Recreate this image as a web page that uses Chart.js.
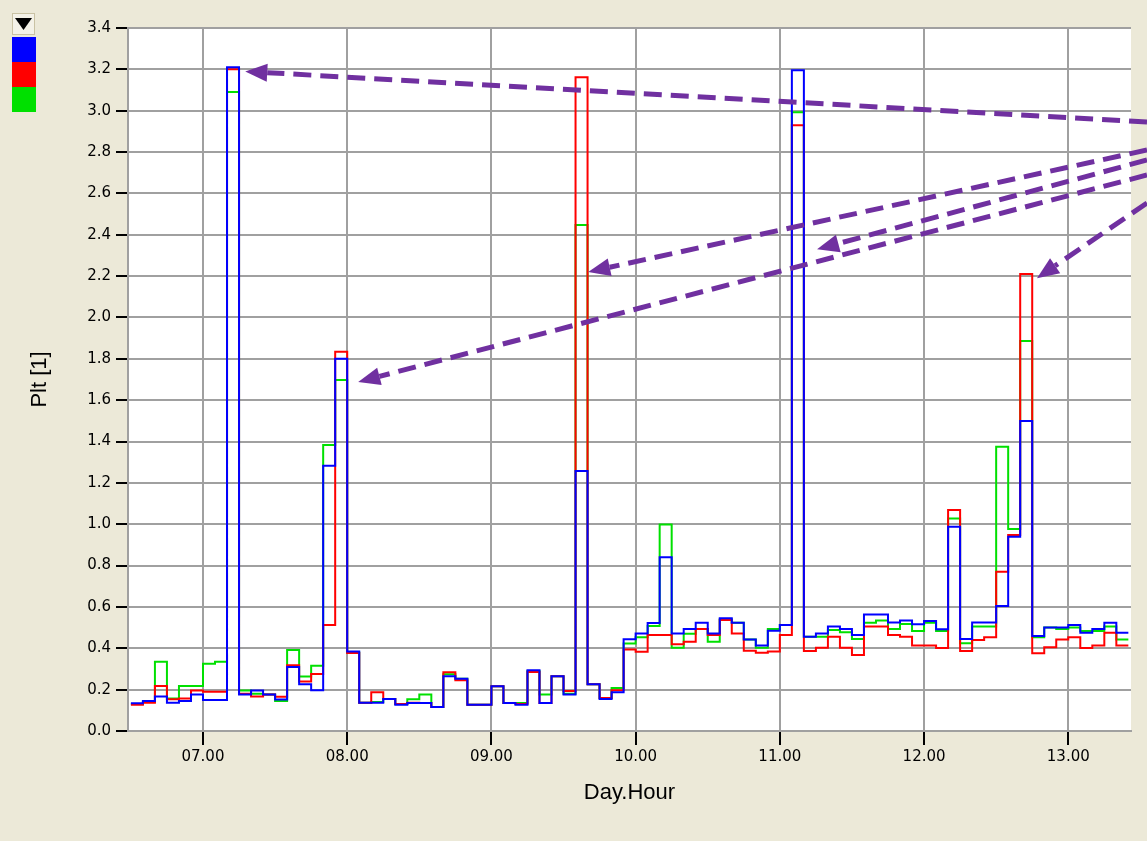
<!DOCTYPE html>
<html lang="en">

<head>
    <meta charset="UTF-8">
    <title>Plt [1] - Day.Hour</title>
    <script src="https://cdn.jsdelivr.net/npm/chart.js"></script>
    <style>
        body { margin: 0; background: #ECE9D8; }
        canvas { display: block; }
    </style>
</head>

<body>
    <canvas id="myChart" width="1147" height="841"></canvas>

    <script>
        // two-hour steps starting at day 06, 12:00
        const startTime = 6.5;
        const stepSize = 1 / 12;

        const blueValues = [
            0.134, 0.145, 0.167, 0.137, 0.145, 0.177, 0.150, 0.150, 3.210, 0.177,
            0.196, 0.177, 0.152, 0.310, 0.226, 0.197, 1.283, 1.800, 0.385, 0.137,
            0.137, 0.155, 0.127, 0.135, 0.135, 0.116, 0.265, 0.253, 0.127, 0.127,
            0.216, 0.135, 0.127, 0.294, 0.135, 0.265, 0.177, 1.257, 0.226, 0.155,
            0.187, 0.444, 0.472, 0.522, 0.840, 0.472, 0.493, 0.524, 0.472, 0.545,
            0.524, 0.443, 0.413, 0.485, 0.513, 3.196, 0.456, 0.472, 0.505, 0.493,
            0.464, 0.564, 0.564, 0.525, 0.534, 0.516, 0.532, 0.492, 0.988, 0.445,
            0.525, 0.525, 0.604, 0.940, 1.499, 0.459, 0.501, 0.501, 0.513, 0.475,
            0.493, 0.524, 0.475
        ];
        const redValues = [
            0.127, 0.137, 0.218, 0.153, 0.157, 0.196, 0.190, 0.190, 3.200, 0.180,
            0.167, 0.177, 0.166, 0.318, 0.240, 0.276, 0.513, 1.834, 0.377, 0.137,
            0.188, 0.155, 0.130, 0.137, 0.135, 0.116, 0.284, 0.245, 0.127, 0.127,
            0.216, 0.135, 0.130, 0.285, 0.135, 0.265, 0.194, 3.162, 0.226, 0.160,
            0.197, 0.394, 0.383, 0.464, 0.464, 0.419, 0.432, 0.493, 0.464, 0.537,
            0.472, 0.388, 0.379, 0.384, 0.464, 2.930, 0.387, 0.403, 0.456, 0.403,
            0.368, 0.505, 0.505, 0.464, 0.456, 0.414, 0.414, 0.401, 1.069, 0.387,
            0.440, 0.453, 0.770, 0.948, 2.210, 0.376, 0.405, 0.443, 0.453, 0.401,
            0.414, 0.475, 0.414
        ];
        const greenValues = [
            0.130, 0.140, 0.335, 0.157, 0.218, 0.218, 0.325, 0.335, 3.090, 0.196,
            0.180, 0.177, 0.145, 0.392, 0.264, 0.315, 1.383, 1.697, 0.380, 0.137,
            0.140, 0.155, 0.130, 0.153, 0.177, 0.116, 0.274, 0.253, 0.127, 0.127,
            0.216, 0.135, 0.135, 0.290, 0.177, 0.265, 0.180, 2.447, 0.226, 0.160,
            0.208, 0.423, 0.454, 0.508, 0.999, 0.403, 0.470, 0.493, 0.432, 0.540,
            0.524, 0.443, 0.403, 0.493, 0.513, 2.993, 0.456, 0.456, 0.488, 0.477,
            0.445, 0.524, 0.534, 0.493, 0.517, 0.484, 0.524, 0.484, 1.028, 0.424,
            0.505, 0.505, 1.375, 0.977, 1.886, 0.453, 0.501, 0.493, 0.501, 0.484,
            0.484, 0.505, 0.443
        ];

        const xTicks = [7, 8, 9, 10, 11, 12, 13];
        const xTickLabels = ['07.00', '08.00', '09.00', '10.00', '11.00', '12.00', '13.00'];
        const yTicks = [0, 0.2, 0.4, 0.6, 0.8, 1.0, 1.2, 1.4, 1.6, 1.8, 2.0, 2.2, 2.4, 2.6, 2.8, 3.0, 3.2, 3.4];

        // arrow tips in data units (Day.Hour, Plt)
        const arrowTips = [
            [7.293, 3.19], [9.671, 2.22], [11.258, 2.33], [8.076, 1.688], [12.783, 2.19]
        ];
        const arrowStartsY = [122, 150, 160, 175, 203];

        // one point per step, plus an end point so the last step is drawn
        function toSteps(values) {
            const pts = values.map((v, i) => ({ x: startTime + i * stepSize, y: v }));
            pts.push({ x: startTime + values.length * stepSize, y: values[values.length - 1] });
            return pts;
        }

        const plotBackground = {
            id: 'plotBackground',
            beforeDraw(chart) {
                const { ctx, chartArea: a } = chart;
                ctx.save();
                ctx.fillStyle = '#ffffff';
                ctx.fillRect(a.left, a.top, a.right - a.left, a.bottom - a.top);
                ctx.restore();
            }
        };

        const swatches = {
            id: 'swatches',
            afterDraw(chart) {
                const ctx = chart.ctx;
                ctx.save();
                // small dropdown button
                ctx.fillStyle = '#f4f2e8';
                ctx.fillRect(12, 13, 23, 22);
                ctx.strokeStyle = '#c9c2a4';
                ctx.lineWidth = 1;
                ctx.strokeRect(12.5, 13.5, 22, 21);
                ctx.fillStyle = '#000';
                ctx.beginPath();
                ctx.moveTo(15, 18);
                ctx.lineTo(32, 18);
                ctx.lineTo(23.5, 30);
                ctx.closePath();
                ctx.fill();
                chart.data.datasets.forEach((ds, i) => {
                    ctx.fillStyle = ds.borderColor;
                    ctx.fillRect(12, 37 + i * 25, 24, 25);
                });
                ctx.restore();
            }
        };

        const arrows = {
            id: 'arrows',
            afterDraw(chart) {
                const { ctx, scales: { x, y } } = chart;
                ctx.save();
                ctx.strokeStyle = '#7030A0';
                ctx.fillStyle = '#7030A0';
                ctx.lineWidth = 5;
                arrowTips.forEach(([tx, ty], i) => {
                    const ex = x.getPixelForValue(tx);
                    const ey = y.getPixelForValue(ty);
                    const sx = chart.width;
                    const sy = arrowStartsY[i];
                    const ang = Math.atan2(ey - sy, ex - sx);
                    const head = 22, half = 9;
                    const bx = ex - head * Math.cos(ang);
                    const by = ey - head * Math.sin(ang);
                    ctx.setLineDash([18, 9]);
                    ctx.beginPath();
                    ctx.moveTo(sx, sy);
                    ctx.lineTo(bx, by);
                    ctx.stroke();
                    ctx.setLineDash([]);
                    ctx.beginPath();
                    ctx.moveTo(ex, ey);
                    ctx.lineTo(bx + half * Math.sin(ang), by - half * Math.cos(ang));
                    ctx.lineTo(bx - half * Math.sin(ang), by + half * Math.cos(ang));
                    ctx.closePath();
                    ctx.fill();
                });
                ctx.restore();
            }
        };

        const ctx = document.getElementById('myChart');

        new Chart(ctx, {
            type: 'line',
            data: {
                datasets: [
                    { label: 'blue', data: toSteps(blueValues), borderColor: '#0000ff' },
                    { label: 'red', data: toSteps(redValues), borderColor: '#ff0000' },
                    { label: 'green', data: toSteps(greenValues), borderColor: '#00e000' }
                ]
            },
            options: {
                responsive: false,
                animation: false,
                layout: { padding: { left: 0, right: 16, top: 28, bottom: 0 } },
                elements: {
                    point: { radius: 0 },
                    line: { borderWidth: 2, stepped: true, tension: 0 }
                },
                plugins: {
                    legend: { display: false },
                    tooltip: { enabled: false }
                },
                scales: {
                    x: {
                        type: 'linear',
                        min: 6.48,
                        max: 13.435,
                        afterFit: (s) => { s.height = 110; },
                        afterBuildTicks: (s) => { s.ticks = xTicks.map(v => ({ value: v })); },
                        grid: { color: '#a0a0a0', lineWidth: 2, tickColor: '#000', tickLength: 14 },
                        border: { color: '#a0a0a0', width: 2 },
                        ticks: {
                            color: '#000',
                            padding: 3,
                            maxRotation: 0,
                            font: { family: 'DejaVu Sans', size: 15 },
                            callback: (v, i) => xTickLabels[i]
                        },
                        title: {
                            display: true,
                            text: 'Day.Hour',
                            color: '#000',
                            font: { family: 'Liberation Sans', size: 22 },
                            padding: { top: 0, bottom: 35 }
                        }
                    },
                    y: {
                        min: 0,
                        max: 3.4,
                        afterFit: (s) => { s.width = 128; },
                        afterBuildTicks: (s) => { s.ticks = yTicks.map(v => ({ value: v })); },
                        grid: { color: '#a0a0a0', lineWidth: 2, tickColor: '#000', tickLength: 12 },
                        border: { color: '#a0a0a0', width: 2 },
                        ticks: {
                            color: '#000',
                            padding: 5,
                            font: { family: 'DejaVu Sans', size: 15 },
                            callback: (v) => v.toFixed(1)
                        },
                        title: {
                            display: true,
                            text: 'Plt [1]',
                            color: '#000',
                            font: { family: 'Liberation Sans', size: 22 },
                            padding: { top: 27, bottom: 0 }
                        }
                    }
                }
            },
            plugins: [plotBackground, swatches, arrows]
        });
    </script>
</body>

</html>
